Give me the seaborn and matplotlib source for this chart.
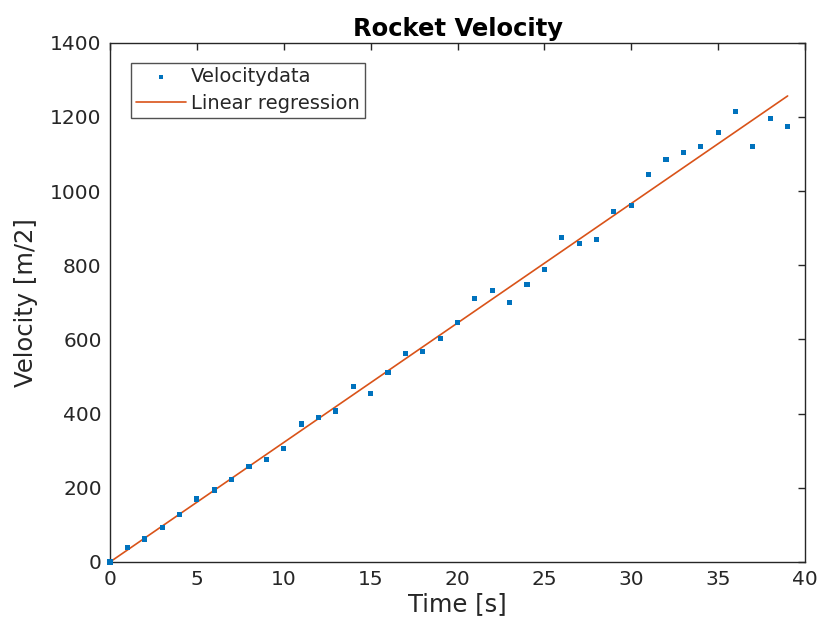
import numpy as np
import pandas as pd
import matplotlib
matplotlib.use("Agg")
import matplotlib.pyplot as plt
import seaborn as sns

# --- data ---
time_s = list(range(0, 40))
velocity = [0, 40, 62, 92, 129, 170, 194, 223, 258, 277,
            307, 372, 390, 407, 474, 455, 512, 563, 568, 603,
            646, 711, 732, 700, 748, 789, 875, 859, 870, 945,
            961, 1045, 1085, 1104, 1120, 1158, 1214, 1120, 1195, 1174]

df = pd.DataFrame({"time": time_s, "velocity": velocity})

# regression through the origin (y = a*x)
x = df["time"].to_numpy(float)
y = df["velocity"].to_numpy(float)
slope = (x @ y) / (x @ x)
df["fit"] = slope * x

sns.set_style("white")
plt.rcParams["font.family"] = ["DejaVu Sans"]

fig = plt.figure(figsize=(8.21, 6.30), dpi=100)
ax = fig.add_axes([0.1340, 0.1080, 0.8465, 0.8240])

sns.scatterplot(data=df, x="time", y="velocity", ax=ax, marker="s", s=14,
                color="#0072BD", edgecolor="none", label="Velocitydata",
                zorder=3, clip_on=False)
sns.lineplot(data=df, x="time", y="fit", ax=ax, color="#D95319", lw=1.2,
             label="Linear regression")

ax.set_xlim(0, 40)
ax.set_ylim(0, 1400)
ax.set_xticks(range(0, 41, 5))
ax.set_yticks(range(0, 1401, 200))
ax.tick_params(direction="in", length=5, width=1, top=True, right=True,
               labelsize=14.5, colors="#262626", pad=6)
for sp in ax.spines.values():
    sp.set_visible(True)
    sp.set_color("#262626")
    sp.set_linewidth(1)

ax.set_xlabel("Time [s]", fontsize=17.5, color="#262626", labelpad=2)
ax.set_ylabel("Velocity [m/2]", fontsize=17.5, color="#262626", labelpad=9)
ax.set_title("Rocket Velocity", fontsize=17.5, fontweight="bold", color="black", pad=5)

leg = ax.legend(loc="upper left", bbox_to_anchor=(0.03, 0.962), fontsize=14,
                frameon=True, fancybox=False, edgecolor="#262626",
                handlelength=2.6, handletextpad=0.25, borderpad=0.25,
                labelspacing=0.4, borderaxespad=0, markerscale=0.8)
leg.get_frame().set_linewidth(1)

fig.savefig("out.png", dpi=100)
